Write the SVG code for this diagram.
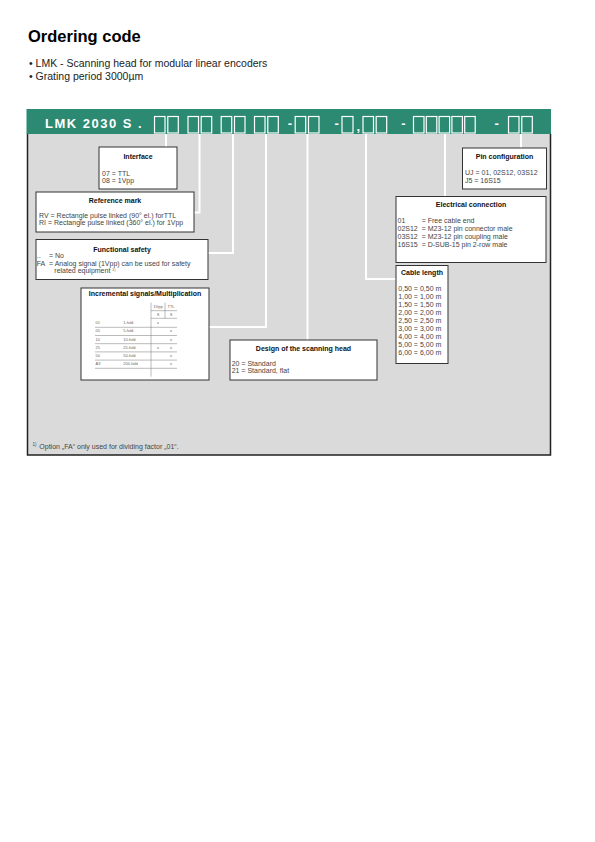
<svg xmlns="http://www.w3.org/2000/svg" width="595" height="842" viewBox="0 0 595 842">
<style>
text{font-family:"Liberation Sans",Arial,sans-serif}
.h{font-weight:bold;font-size:7px;fill:#111;text-anchor:middle}
.t{font-size:7px;fill:#444}
.s{font-size:4px;fill:#666}
.sc{font-size:4px;fill:#666;text-anchor:middle}
.box{fill:#fff;stroke:#333;stroke-width:1}
.cb{fill:#2c8a72;stroke:#fff;stroke-width:1.2}
.conn{fill:none;stroke:#fff;stroke-width:2}
.tl{stroke:#777;stroke-width:0.5}
.hw{font-weight:bold;font-size:13px;fill:#fff;text-anchor:middle}
</style>
<rect width="595" height="842" fill="#fff"/>
<text x="28" y="42" font-size="16.5" font-weight="bold" fill="#000">Ordering code</text>
<text x="29" y="67" font-size="10.5" fill="#222">• LMK - Scanning head for modular linear encoders</text>
<text x="29" y="79.5" font-size="10.5" fill="#222">• Grating period 3000µm</text>

<g id="panel">
<rect x="27" y="134" width="524" height="321" fill="#dadada"/>
<path d="M27.5 134 V455 H550.5 V134" fill="none" stroke="#222" stroke-width="1.5"/>
<rect x="26.5" y="109" width="524.5" height="25" fill="#2c8a72"/>
<text x="45" y="127.5" font-size="13" font-weight="bold" fill="#fff" letter-spacing="1.5">LMK 2030 S .</text>
<rect class="cb" x="154.5" y="116.5" width="10.5" height="16.5"/>
<rect class="cb" x="167.8" y="116.5" width="10.5" height="16.5"/>
<rect class="cb" x="188" y="116.5" width="10.5" height="16.5"/>
<rect class="cb" x="201.2" y="116.5" width="10.5" height="16.5"/>
<rect class="cb" x="221.2" y="116.5" width="10.5" height="16.5"/>
<rect class="cb" x="234.5" y="116.5" width="10.5" height="16.5"/>
<rect class="cb" x="254.5" y="116.5" width="10.5" height="16.5"/>
<rect class="cb" x="267.8" y="116.5" width="10.5" height="16.5"/>
<text class="hw" x="290" y="128">-</text>
<rect class="cb" x="295.2" y="116.5" width="10.5" height="16.5"/>
<rect class="cb" x="308.5" y="116.5" width="10.5" height="16.5"/>
<text class="hw" x="336.7" y="128">-</text>
<rect class="cb" x="342" y="116.5" width="11" height="16.5"/>
<text class="hw" x="358.3" y="131">,</text>
<rect class="cb" x="363" y="116.5" width="10.5" height="16.5"/>
<rect class="cb" x="376.2" y="116.5" width="10.5" height="16.5"/>
<text class="hw" x="403.3" y="128">-</text>
<rect class="cb" x="413.5" y="116.5" width="10.5" height="16.5"/>
<rect class="cb" x="426.3" y="116.5" width="10.5" height="16.5"/>
<rect class="cb" x="439.1" y="116.5" width="10.5" height="16.5"/>
<rect class="cb" x="451.9" y="116.5" width="10.5" height="16.5"/>
<rect class="cb" x="464.7" y="116.5" width="10.5" height="16.5"/>
<text class="hw" x="496.7" y="128">-</text>
<rect class="cb" x="508.5" y="116.5" width="10.5" height="16.5"/>
<rect class="cb" x="521.8" y="116.5" width="10.5" height="16.5"/>
</g>

<g id="connectors">
<path class="conn" d="M166 134 V147"/>
<path class="conn" d="M199.5 134 V212.5 H194"/>
<path class="conn" d="M233 134 V253 H208"/>
<path class="conn" d="M266 134 V327 H209"/>
<path class="conn" d="M307.5 134 V340"/>
<path class="conn" d="M366 134 V279 H396"/>
<path class="conn" d="M445 134 V196.5"/>
<path class="conn" d="M521 134 V148"/>
</g>

<g id="interface">
<rect class="box" x="99" y="147" width="78" height="42"/>
<text class="h" x="138" y="159.3">Interface</text>
<text class="t" x="102" y="175.7">07 = TTL</text>
<text class="t" x="102" y="183.3">08 = 1Vpp</text>
</g>

<g id="reference-mark">
<rect class="box" x="36" y="192" width="158" height="40"/>
<text class="h" x="115" y="203.3">Reference mark</text>
<text class="t" x="39" y="217.7">RV = Rectangle pulse linked (90° el.) forTTL</text>
<text class="t" x="39" y="225.3">RI  = Rectangle pulse linked (360° el.) for 1Vpp</text>
</g>

<g id="functional-safety">
<rect class="box" x="36" y="239.5" width="172" height="40"/>
<text class="h" x="122" y="251.7">Functional safety</text>
<text class="t" x="36.7" y="258.3">..</text>
<text class="t" x="49" y="258.3">= No</text>
<text class="t" x="36.7" y="265.8">FA</text>
<text class="t" x="49" y="265.8">= Analog signal (1Vpp) can be used for safety</text>
<text class="t" x="54.3" y="273.3">related equipment</text>
<text class="s" x="112" y="271">1)</text>
</g>

<g id="incremental-signals">
<rect class="box" x="81" y="288" width="128" height="92"/>
<text class="h" x="145" y="296">Incremental signals/Multiplication</text>
<line class="tl" x1="151" y1="302.7" x2="151" y2="376.7"/>
<line class="tl" x1="165" y1="302.7" x2="165" y2="318.3"/>
<line class="tl" x1="151" y1="310.7" x2="177" y2="310.7"/>
<line class="tl" x1="151" y1="318.3" x2="177" y2="318.3"/>
<line class="tl" x1="95" y1="327.3" x2="177" y2="327.3"/>
<line class="tl" x1="95" y1="335.5" x2="177" y2="335.5"/>
<line class="tl" x1="95" y1="343.7" x2="177" y2="343.7"/>
<line class="tl" x1="95" y1="351.9" x2="177" y2="351.9"/>
<line class="tl" x1="95" y1="360.1" x2="177" y2="360.1"/>
<line class="tl" x1="95" y1="368.3" x2="177" y2="368.3"/>
<text class="sc" x="158" y="307.5">1Vpp</text>
<text class="sc" x="171" y="307.5">TTL</text>
<text class="sc" x="158" y="315.8">S</text>
<text class="sc" x="171" y="315.8">S</text>
<text class="s" x="95.5" y="324.1">01</text><text class="s" x="123.3" y="324.1">1-fold</text><text class="sc" x="158" y="324.1">x</text>
<text class="s" x="95.5" y="332.3">05</text><text class="s" x="123.3" y="332.3">5-fold</text><text class="sc" x="171" y="332.3">x</text>
<text class="s" x="95.5" y="340.5">10</text><text class="s" x="123.3" y="340.5">10-fold</text><text class="sc" x="171" y="340.5">x</text>
<text class="s" x="95.5" y="348.7">25</text><text class="s" x="123.3" y="348.7">25-fold</text><text class="sc" x="158" y="348.7">x</text><text class="sc" x="171" y="348.7">x</text>
<text class="s" x="95.5" y="356.9">50</text><text class="s" x="123.3" y="356.9">50-fold</text><text class="sc" x="171" y="356.9">x</text>
<text class="s" x="95.5" y="365.1">A3</text><text class="s" x="123.3" y="365.1">200-fold</text><text class="sc" x="171" y="365.1">x</text>
</g>

<g id="design-scanning-head">
<rect class="box" x="230" y="340" width="147" height="40"/>
<text class="h" x="303.5" y="350.7">Design of the scanning head</text>
<text class="t" x="231.7" y="366">20 = Standard</text>
<text class="t" x="231.7" y="373.3">21 = Standard, flat</text>
</g>

<g id="pin-configuration">
<rect class="box" x="462.5" y="148" width="84" height="41"/>
<text class="h" x="504.5" y="159.3">Pin configuration</text>
<text class="t" x="465" y="175">UJ = 01, 02S12, 03S12</text>
<text class="t" x="465" y="182.7">J5 = 16S15</text>
</g>

<g id="electrical-connection">
<rect class="box" x="396" y="196.5" width="150" height="66"/>
<text class="h" x="471" y="206.7">Electrical connection</text>
<text class="t" x="397.5" y="222.7">01</text><text class="t" x="421.7" y="222.7">= Free cable end</text>
<text class="t" x="397.5" y="230.7">02S12</text><text class="t" x="421.7" y="230.7">= M23-12 pin connector male</text>
<text class="t" x="397.5" y="238.7">03S12</text><text class="t" x="421.7" y="238.7">= M23-12 pin coupling male</text>
<text class="t" x="397.5" y="246.7">16S15</text><text class="t" x="421.7" y="246.7">= D-SUB-15 pin 2-row male</text>
</g>

<g id="cable-length">
<rect class="box" x="396" y="265.5" width="52" height="98"/>
<text class="h" x="422" y="275">Cable length</text>
<text class="t" x="398.3" y="290.7">0,50 = 0,50 m</text>
<text class="t" x="398.3" y="298.7">1,00 = 1,00 m</text>
<text class="t" x="398.3" y="306.7">1,50 = 1,50 m</text>
<text class="t" x="398.3" y="314.7">2,00 = 2,00 m</text>
<text class="t" x="398.3" y="322.7">2,50 = 2,50 m</text>
<text class="t" x="398.3" y="330.7">3,00 = 3,00 m</text>
<text class="t" x="398.3" y="338.7">4,00 = 4,00 m</text>
<text class="t" x="398.3" y="346.7">5,00 = 5,00 m</text>
<text class="t" x="398.3" y="354.7">6,00 = 6,00 m</text>
</g>

<g id="footnote">
<text x="32.5" y="446" font-size="4.5" fill="#444">1)</text>
<text class="t" x="39.3" y="449.3">Option „FA“ only used for dividing factor „01“.</text>
</g>
</svg>
